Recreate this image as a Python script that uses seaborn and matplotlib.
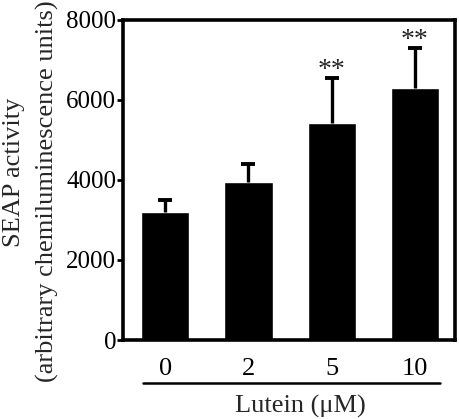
import numpy as np
import matplotlib
matplotlib.use("Agg")
import matplotlib.pyplot as plt
import seaborn as sns

# Values
doses = ["0", "2", "5", "10"]
seap_mean = [3200, 3950, 5420, 6300]
seap_sd = [300, 450, 1130, 1000]
signif = ["", "", "**", "**"]

sns.set_theme(style="white")
plt.rcParams["font.family"] = ["Liberation Serif", "DejaVu Serif"]

fig = plt.figure(figsize=(4.59, 4.19), dpi=100)
ax = fig.add_axes([123 / 459, 79 / 419, 332 / 459, 320 / 419])

sns.barplot(x=doses, y=seap_mean, color="black", saturation=1, width=0.58,
            errorbar=None, ax=ax)
xpos = np.arange(len(doses))
_, caps, _ = ax.errorbar(xpos, seap_mean, yerr=[np.zeros(len(doses)), seap_sd],
                         fmt="none", ecolor="black", elinewidth=2.4,
                         capsize=5, capthick=2.8)
caps[0].set_visible(False)  # only the upper cap

# significance marks above the error bars
for x, m, s, lab in zip(xpos, seap_mean, seap_sd, signif):
    if lab:
        ax.text(x, m + s - 120, lab, ha="center", va="bottom", fontsize=20,
                color="#222222")

ax.set_xlim(-0.505, 3.48)
ax.set_ylim(0, 8000)
ax.set_yticks([0, 2000, 4000, 6000, 8000])
ax.tick_params(axis="y", labelsize=18, length=4, width=2, direction="out",
               left=True, pad=1, colors="black")
ax.tick_params(axis="x", labelsize=19, length=0, pad=13, colors="black")
for sp in ax.spines.values():
    sp.set_linewidth(2.6)
    sp.set_color("black")
ax.set_xlabel("")
ax.set_ylabel("")

# line under the dose labels
ax.plot([0.06, 0.955], [-0.134, -0.134], transform=ax.transAxes,
        color="black", linewidth=1.8, clip_on=False)

fig.text(300 / 459, 1 / 419, "Lutein (μM)", ha="center", va="bottom",
         fontsize=19)
fig.text(14 / 459, 1 - 172 / 419, "SEAP activity", rotation=90,
         ha="center", va="center", fontsize=19)
fig.text(47 / 459, 1 - 191 / 419, "(arbitrary chemiluminescence units)",
         rotation=90, ha="center", va="center", fontsize=19)

fig.savefig("out.png", dpi=100)
